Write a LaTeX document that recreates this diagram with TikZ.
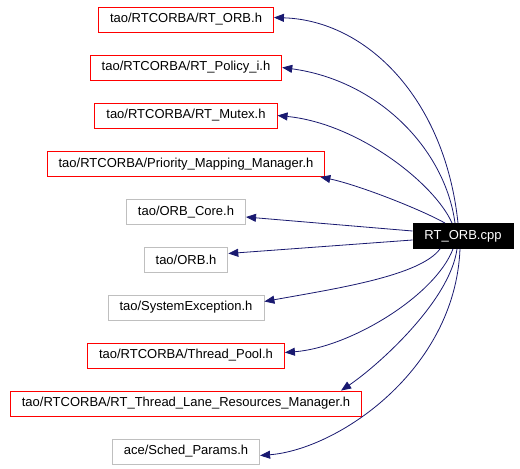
\documentclass[tikz,border=0pt]{standalone}
\usepackage{fontspec}
\setmainfont{Liberation Sans}
\usetikzlibrary{arrows.meta}
\definecolor{edgeblue}{HTML}{191970}
\definecolor{boxgray}{HTML}{BFBFBF}
\definecolor{boxred}{HTML}{FF0000}
\tikzset{
  filebox/.style={draw, line width=0.9pt, minimum height=25pt, inner xsep=11.5pt, inner ysep=0pt,
    font=\fontsize{13pt}{15pt}\selectfont, anchor=center},
  redbox/.style={filebox, draw=boxred},
  graybox/.style={filebox, draw=boxgray},
  mainbox/.style={filebox, draw=black, fill=black, text=white},
  dep/.style={draw=edgeblue, line width=0.8pt, -{Triangle[length=10pt,width=8pt]}, fill=none}
}
\begin{document}
\begin{tikzpicture}[x=1pt,y=-1pt]
\useasboundingbox (0,0) rectangle (520,469);
\fill[white] (0,0) rectangle (520,469);
\node[redbox]  (a1)  at (186,19.5)  {tao/RTCORBA/RT\_ORB.h};
\node[redbox]  (a2)  at (186,67.5)  {tao/RTCORBA/RT\_Policy\_i.h};
\node[redbox]  (a3)  at (186,115.5) {tao/RTCORBA/RT\_Mutex.h};
\node[redbox]  (a4)  at (186,164)   {tao/RTCORBA/Priority\_Mapping\_Manager.h};
\node[graybox] (a5)  at (186,212)   {tao/ORB\_Core.h};
\node[graybox] (a6)  at (186,259.5) {tao/ORB.h};
\node[graybox] (a7)  at (186,307.5) {tao/SystemException.h};
\node[redbox]  (a8)  at (186,355.5) {tao/RTCORBA/Thread\_Pool.h};
\node[redbox]  (a9)  at (186,403.5) {tao/RTCORBA/RT\_Thread\_Lane\_Resources\_Manager.h};
\node[graybox] (a10) at (186,451.5) {ace/Sched\_Params.h};
\node[mainbox] (cpp) at (463,236)   {RT\_ORB.cpp};

\draw[dep] ([xshift=-5pt]cpp.north) .. controls +(-13,-124) and +(93,3) .. ([yshift=2pt]a1.east);
\draw[dep] ([xshift=-8pt]cpp.north) .. controls +(-10,-74) and +(96,13) .. (a2.east);
\draw[dep] ([xshift=-11pt]cpp.north) .. controls +(-17,-39) and +(81,8) .. (a3.east);
\draw[dep] ([xshift=-18pt]cpp.north) .. controls +(-25,-14) and +(38,8) .. ([xshift=-5pt]a4.south east);
\draw[dep] ([yshift=5pt]cpp.west) -- ([yshift=-5pt]a5.east);
\draw[dep] ([yshift=-4pt]cpp.west) -- ([yshift=6pt]a6.east);
\draw[dep] ([xshift=-23pt]cpp.south) .. controls +(-20,27) and +(72,-13) .. ([yshift=6pt]a7.east);
\draw[dep] ([xshift=-10pt]cpp.south) .. controls +(-18,47) and +(65,-5) .. ([yshift=3pt]a8.east);
\draw[dep] ([xshift=-6pt]cpp.south) .. controls +(-7,52) and +(37,-25) .. ([xshift=-21pt]a9.north east);
\draw[dep] ([xshift=-3pt]cpp.south) .. controls +(-5,122) and +(77,-6) .. ([yshift=-4pt]a10.east);
\end{tikzpicture}
\end{document}
